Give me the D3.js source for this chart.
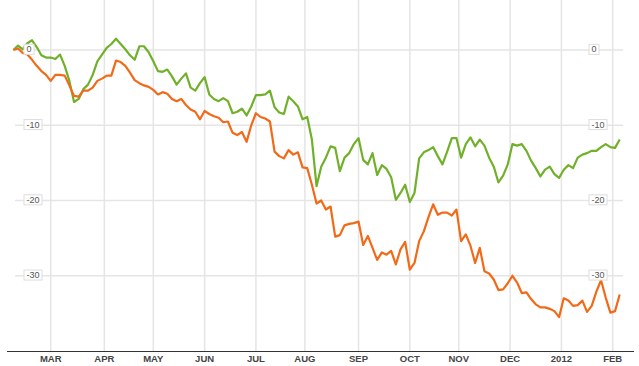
<!DOCTYPE html>
<meta charset="utf-8">
<style>
    body {
        margin: 0;
        background: #fff;
    }

    svg {
        display: block;
        font-family: "Liberation Sans", Arial, sans-serif;
    }
</style>
<svg id="chart" width="639" height="366"></svg>
<script src="https://cdn.jsdelivr.net/npm/d3@7"></script>
<script>

    // sampled every second weekday, Feb 2011 - Feb 2012
    var dates = [
        "2011-02-07", "2011-02-09", "2011-02-11", "2011-02-15", "2011-02-17",
        "2011-02-21", "2011-02-23", "2011-02-25", "2011-03-01", "2011-03-03",
        "2011-03-07", "2011-03-09", "2011-03-11", "2011-03-15", "2011-03-17",
        "2011-03-21", "2011-03-23", "2011-03-25", "2011-03-29", "2011-03-31",
        "2011-04-04", "2011-04-06", "2011-04-08", "2011-04-12", "2011-04-14",
        "2011-04-18", "2011-04-20", "2011-04-22", "2011-04-26", "2011-04-28",
        "2011-05-02", "2011-05-04", "2011-05-06", "2011-05-10", "2011-05-12",
        "2011-05-16", "2011-05-18", "2011-05-20", "2011-05-24", "2011-05-26",
        "2011-05-30", "2011-06-01", "2011-06-03", "2011-06-07", "2011-06-09",
        "2011-06-13", "2011-06-15", "2011-06-17", "2011-06-21", "2011-06-23",
        "2011-06-27", "2011-06-29", "2011-07-01", "2011-07-05", "2011-07-07",
        "2011-07-11", "2011-07-13", "2011-07-15", "2011-07-19", "2011-07-21",
        "2011-07-25", "2011-07-27", "2011-07-29", "2011-08-02", "2011-08-04",
        "2011-08-08", "2011-08-10", "2011-08-12", "2011-08-16", "2011-08-18",
        "2011-08-22", "2011-08-24", "2011-08-26", "2011-08-30", "2011-09-01",
        "2011-09-05", "2011-09-07", "2011-09-09", "2011-09-13", "2011-09-15",
        "2011-09-19", "2011-09-21", "2011-09-23", "2011-09-27", "2011-09-29",
        "2011-10-03", "2011-10-05", "2011-10-07", "2011-10-11", "2011-10-13",
        "2011-10-17", "2011-10-19", "2011-10-21", "2011-10-25", "2011-10-27",
        "2011-10-31", "2011-11-02", "2011-11-04", "2011-11-08", "2011-11-10",
        "2011-11-14", "2011-11-16", "2011-11-18", "2011-11-22", "2011-11-24",
        "2011-11-28", "2011-11-30", "2011-12-02", "2011-12-06", "2011-12-08",
        "2011-12-12", "2011-12-14", "2011-12-16", "2011-12-20", "2011-12-22",
        "2011-12-26", "2011-12-28", "2011-12-30", "2012-01-03", "2012-01-05",
        "2012-01-09", "2012-01-11", "2012-01-13", "2012-01-17", "2012-01-19",
        "2012-01-23", "2012-01-25", "2012-01-27", "2012-01-31", "2012-02-02",
        "2012-02-06"
    ];

    var greenSeries = [
        0.0, 0.6, 0.1, 0.9, 1.3, 0.4, -0.7, -1.0, -1.0, -1.2,
        -0.6, -2.1, -4.1, -6.9, -6.5, -5.2, -4.6, -3.3, -1.5, -0.6,
        0.3, 0.8, 1.5, 0.8, 0.1, -0.7, -1.3, 0.5, 0.5, -0.3,
        -1.5, -2.8, -2.9, -2.6, -3.5, -4.6, -3.8, -3.1, -5.0, -5.4,
        -4.4, -3.6, -5.9, -6.5, -6.8, -6.4, -6.8, -8.4, -8.2, -7.8,
        -8.7, -7.5, -6.0, -6.0, -5.9, -5.4, -7.6, -8.3, -8.5, -6.2,
        -6.8, -7.5, -9.2, -8.9, -11.9, -18.1, -15.5, -14.3, -12.8, -13.0,
        -16.1, -14.3, -13.7, -12.5, -11.7, -14.6, -15.2, -13.7, -16.6, -15.3,
        -15.8, -16.9, -19.9, -19.0, -17.9, -20.2, -19.0, -14.4, -13.6, -13.3,
        -12.9, -14.1, -15.2, -13.5, -11.7, -11.7, -14.3, -12.5, -11.6, -12.8,
        -11.9, -12.7, -14.3, -15.5, -17.6, -16.7, -15.2, -12.5, -12.7, -12.5,
        -13.4, -14.7, -15.7, -16.8, -15.9, -15.5, -16.5, -17.0, -15.9, -15.3,
        -15.7, -14.3, -13.9, -13.7, -13.4, -13.4, -12.9, -12.5, -12.9, -13.0,
        -11.9
    ];

    var orangeSeries = [
        0.0, 0.2, -0.4, -0.6, -1.3, -2.1, -2.8, -3.3, -4.1, -3.3,
        -3.3, -3.4, -4.7, -6.1, -6.2, -5.4, -5.4, -5.0, -4.1, -3.8,
        -3.4, -3.4, -1.4, -1.6, -2.1, -3.0, -4.0, -4.4, -4.7, -4.9,
        -5.3, -5.9, -5.6, -5.8, -6.5, -6.8, -6.5, -7.3, -7.9, -8.2,
        -9.2, -8.1, -8.5, -8.8, -9.0, -9.6, -9.5, -11.0, -11.3, -10.9,
        -12.2, -10.0, -8.4, -8.9, -9.1, -9.5, -13.5, -14.1, -14.4, -13.3,
        -13.9, -13.6, -15.6, -15.7, -17.9, -20.4, -20.0, -21.2, -20.8, -24.8,
        -24.6, -23.3, -23.1, -23.0, -22.8, -25.9, -24.7, -26.3, -27.9, -26.9,
        -27.2, -26.7, -28.5, -26.5, -25.5, -29.2, -28.3, -25.4, -24.1, -22.2,
        -20.5, -21.9, -21.6, -21.6, -22.0, -21.2, -25.4, -24.5, -26.0, -28.3,
        -26.3, -29.4, -29.7, -30.5, -31.9, -31.8, -31.0, -30.0, -30.9, -32.3,
        -32.2, -33.1, -33.8, -34.2, -34.2, -34.4, -34.7, -35.5, -33.0, -33.3,
        -34.0, -33.9, -33.3, -34.8, -34.0, -32.1, -30.6, -32.9, -34.9, -34.7,
        -32.5
    ];

    var monthTicks = ["2011-03-01", "2011-04-01", "2011-05-02", "2011-06-01", "2011-07-01", "2011-08-01",
        "2011-09-01", "2011-10-03", "2011-11-01", "2011-12-01", "2012-01-02", "2012-02-01"];
    var monthLabels = ["MAR", "APR", "MAY", "JUN", "JUL", "AUG", "SEP", "OCT", "NOV", "DEC", "2012", "FEB"];
    var yTicks = [0, -10, -20, -30];

    var svg = d3.select("#chart"),
        width = +svg.attr("width"),
        height = +svg.attr("height"),
        bottom = height - 15;

    var parse = d3.timeParse("%Y-%m-%d");
    var start = parse(dates[0]);

    // x runs on weekdays only: weekends take no room
    function dayIndex(s) {
        var d = parse(s);
        return 5 * d3.timeMonday.count(start, d) + (d.getDay() + 6) % 7;
    }

    var x = d3.scaleLinear()
        .domain([0, dayIndex(dates[dates.length - 1])])
        .range([13.4, 619.7]);

    var y = d3.scaleLinear()
        .domain([-40, 6.65])
        .range([bottom, 0]);

    // grid
    svg.append("g")
        .selectAll("line")
        .data(monthTicks)
        .enter().append("line")
        .attr("x1", function (d) { return x(dayIndex(d)); })
        .attr("x2", function (d) { return x(dayIndex(d)); })
        .attr("y1", 0)
        .attr("y2", bottom)
        .attr("stroke", "#e5e5e5")
        .attr("stroke-width", 1.5);

    svg.append("g")
        .selectAll("line")
        .data(yTicks)
        .enter().append("line")
        .attr("x1", 15)
        .attr("x2", 623)
        .attr("y1", function (d) { return y(d); })
        .attr("y2", function (d) { return y(d); })
        .attr("stroke", "#e5e5e5")
        .attr("stroke-width", 1.5);

    // bottom axis
    svg.append("line")
        .attr("x1", 7)
        .attr("x2", 634)
        .attr("y1", bottom + 0.5)
        .attr("y2", bottom + 0.5)
        .attr("stroke", "#333")
        .attr("stroke-width", 1.2);

    svg.append("g")
        .selectAll("text")
        .data(monthTicks)
        .enter().append("text")
        .attr("x", function (d) { return x(dayIndex(d)); })
        .attr("y", bottom + 11)
        .attr("text-anchor", "middle")
        .attr("font-size", 9.5)
        .attr("font-weight", "bold")
        .attr("fill", "#444")
        .text(function (d, i) { return monthLabels[i]; });

    // lines
    var line = d3.line()
        .x(function (d, i) { return x(dayIndex(dates[i])); })
        .y(function (d) { return y(d); });

    svg.append("path")
        .datum(greenSeries)
        .attr("fill", "none")
        .attr("stroke", "#71b02a")
        .attr("stroke-width", 2.2)
        .attr("stroke-linejoin", "round")
        .attr("d", line);

    svg.append("path")
        .datum(orangeSeries)
        .attr("fill", "none")
        .attr("stroke", "#f26a17")
        .attr("stroke-width", 2.2)
        .attr("stroke-linejoin", "round")
        .attr("d", line);

    // boxed value labels on both sides
    [24, 589].forEach(function (left) {
        var lab = svg.append("g")
            .selectAll("g")
            .data(yTicks)
            .enter().append("g")
            .attr("transform", function (d) { return "translate(" + left + "," + (y(d) - 0.7) + ")"; });

        var box = lab.append("rect")
            .attr("y", -5)
            .attr("height", 10)
            .attr("fill", "#fff")
            .attr("stroke", "#ddd");

        var txt = lab.append("text")
            .attr("x", 2.5)
            .attr("dy", "0.35em")
            .attr("font-size", 9)
            .attr("fill", "#555")
            .text(function (d) { return d; });

        box.attr("width", function (d, i) { return txt.nodes()[i].getComputedTextLength() + 5; });
    });
</script>
